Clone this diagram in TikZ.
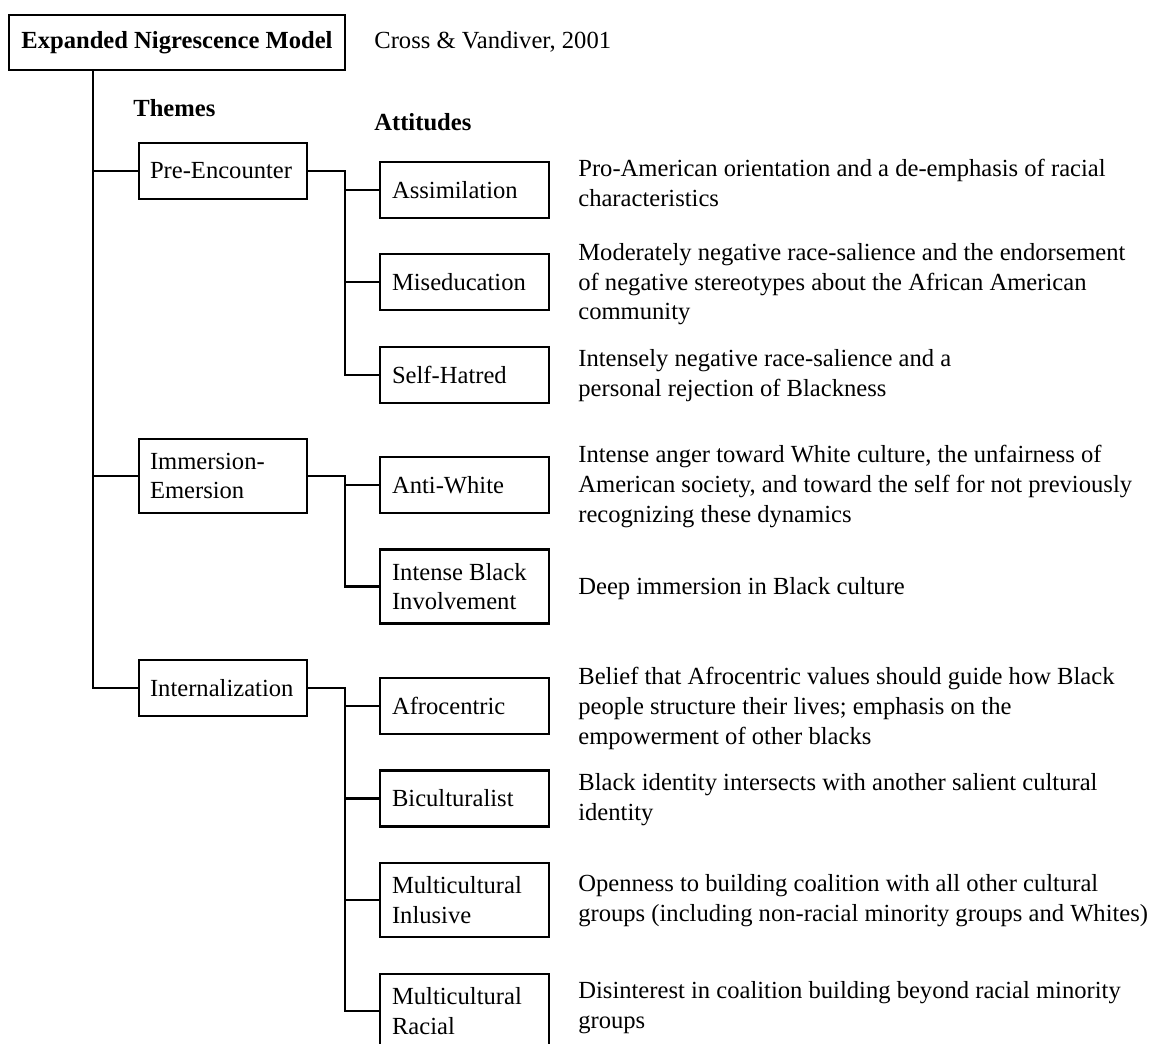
\documentclass[tikz,border=0pt]{standalone}
\usepackage{fontspec}
\setmainfont{Liberation Serif}
\usepackage{tikz}
\usetikzlibrary{positioning}
\newcommand{\txt}{\fontsize{14}{16.8}\selectfont}
\tikzstyle{model} = [rectangle, minimum width=6.72cm, minimum height=1.1cm, draw=black, line width=1.3pt, font=\txt\bfseries]
\tikzstyle{theme} = [rectangle, minimum height=1.12cm, inner sep=0.22cm, text width=2.92cm, align=flush left, draw=black, line width=1.3pt, font=\txt]
\tikzstyle{attitude} = [rectangle, minimum height=1.12cm, inner xsep=0.24cm, inner ysep=0.22cm, text width=2.90cm, align=flush left, draw=black, line width=1.3pt, font=\txt]
\tikzstyle{tall} = [minimum height=1.48cm]
\tikzstyle{desc} = [anchor=base west, align=flush left, inner sep=0pt, font=\txt]
\tikzstyle{heading} = [anchor=west, inner sep=0pt, font=\txt\bfseries]
\tikzstyle{line} = [line width=1.3pt]

\begin{document}
\begin{tikzpicture}[x=0.02cm, y=-0.02cm]
\useasboundingbox (0,0) rectangle (1157,1044);

\node (m) [model] at (177,42.5) {Expanded Nigrescence Model};
\node (cite) [anchor=west, inner sep=0pt, font=\txt] at (374,42) {Cross \& Vandiver, 2001};
\node (th) [heading] at (133,108) {Themes};
\node (at) [heading] at (374,122) {Attitudes};

% themes
\node (pre) [theme] at (223,171) {Pre-Encounter};
\node (imm) [theme, tall] at (223,476) {Immersion-\\Emersion};
\node (intl) [theme] at (223,688) {Internalization};

% attitudes
\node (assim) [attitude] at (464.5,190) {Assimilation};
\node (mised) [attitude] at (464.5,282) {Miseducation};
\node (selfh) [attitude] at (464.5,375) {Self-Hatred};
\node (antiw) [attitude] at (464.5,485) {Anti-White};
\node (ibi) [attitude, tall] at (464.5,586.5) {Intense Black\\Involvement};
\node (afro) [attitude] at (464.5,706) {Afrocentric};
\node (bicult) [attitude] at (464.5,798.5) {Biculturalist};
\node (multi) [attitude, tall] at (464.5,900) {Multicultural\\Inlusive};
\node (multr) [attitude, tall] at (464.5,1011) {Multicultural\\Racial};

% descriptions (placed at the baseline of their last line)
\node (dassim) [desc] at (578,206.5) {Pro-American orientation and a de-emphasis of racial\\characteristics};
\node (dmised) [desc] at (578,320) {Moderately negative race-salience and the endorsement\\of negative stereotypes about the African American\\community};
\node (dselfh) [desc] at (578,396.5) {Intensely negative race-salience and a\\personal rejection of Blackness};
\node (dantiw) [desc] at (578,522) {Intense anger toward White culture, the unfairness of\\American society, and toward the self for not previously\\recognizing these dynamics};
\node (dibi) [desc] at (578,594) {Deep immersion in Black culture};
\node (dafro) [desc] at (578,744) {Belief that Afrocentric values should guide how Black\\people structure their lives; emphasis on the\\empowerment of other blacks};
\node (dbicult) [desc] at (578,820.5) {Black identity intersects with another salient cultural\\identity};
\node (dmulti) [desc] at (578,921.5) {Openness to building coalition with all other cultural\\groups (including non-racial minority groups and Whites)};
\node (dmultr) [desc] at (578,1028.5) {Disinterest in coalition building beyond racial minority\\groups};

% connectors
\coordinate (t0) at (93,0);
\coordinate (t1) at (345,0);
\draw [line] (m.south -| t0) |- (intl.west);
\draw [line] (m.south -| t0) |- (pre.west);
\draw [line] (m.south -| t0) |- (imm.west);

\draw [line] (pre.east) -| (t1 |- selfh.west) -- (selfh.west);
\draw [line] (t1 |- pre.east) |- (assim.west);
\draw [line] (t1 |- pre.east) |- (mised.west);

\draw [line] (imm.east) -| (t1 |- ibi.west) -- (ibi.west);
\draw [line] (t1 |- imm.east) |- (antiw.west);

\draw [line] (intl.east) -| (t1 |- multr.west) -- (multr.west);
\draw [line] (t1 |- intl.east) |- (afro.west);
\draw [line] (t1 |- intl.east) |- (bicult.west);
\draw [line] (t1 |- intl.east) |- (multi.west);
\end{tikzpicture}
\end{document}
